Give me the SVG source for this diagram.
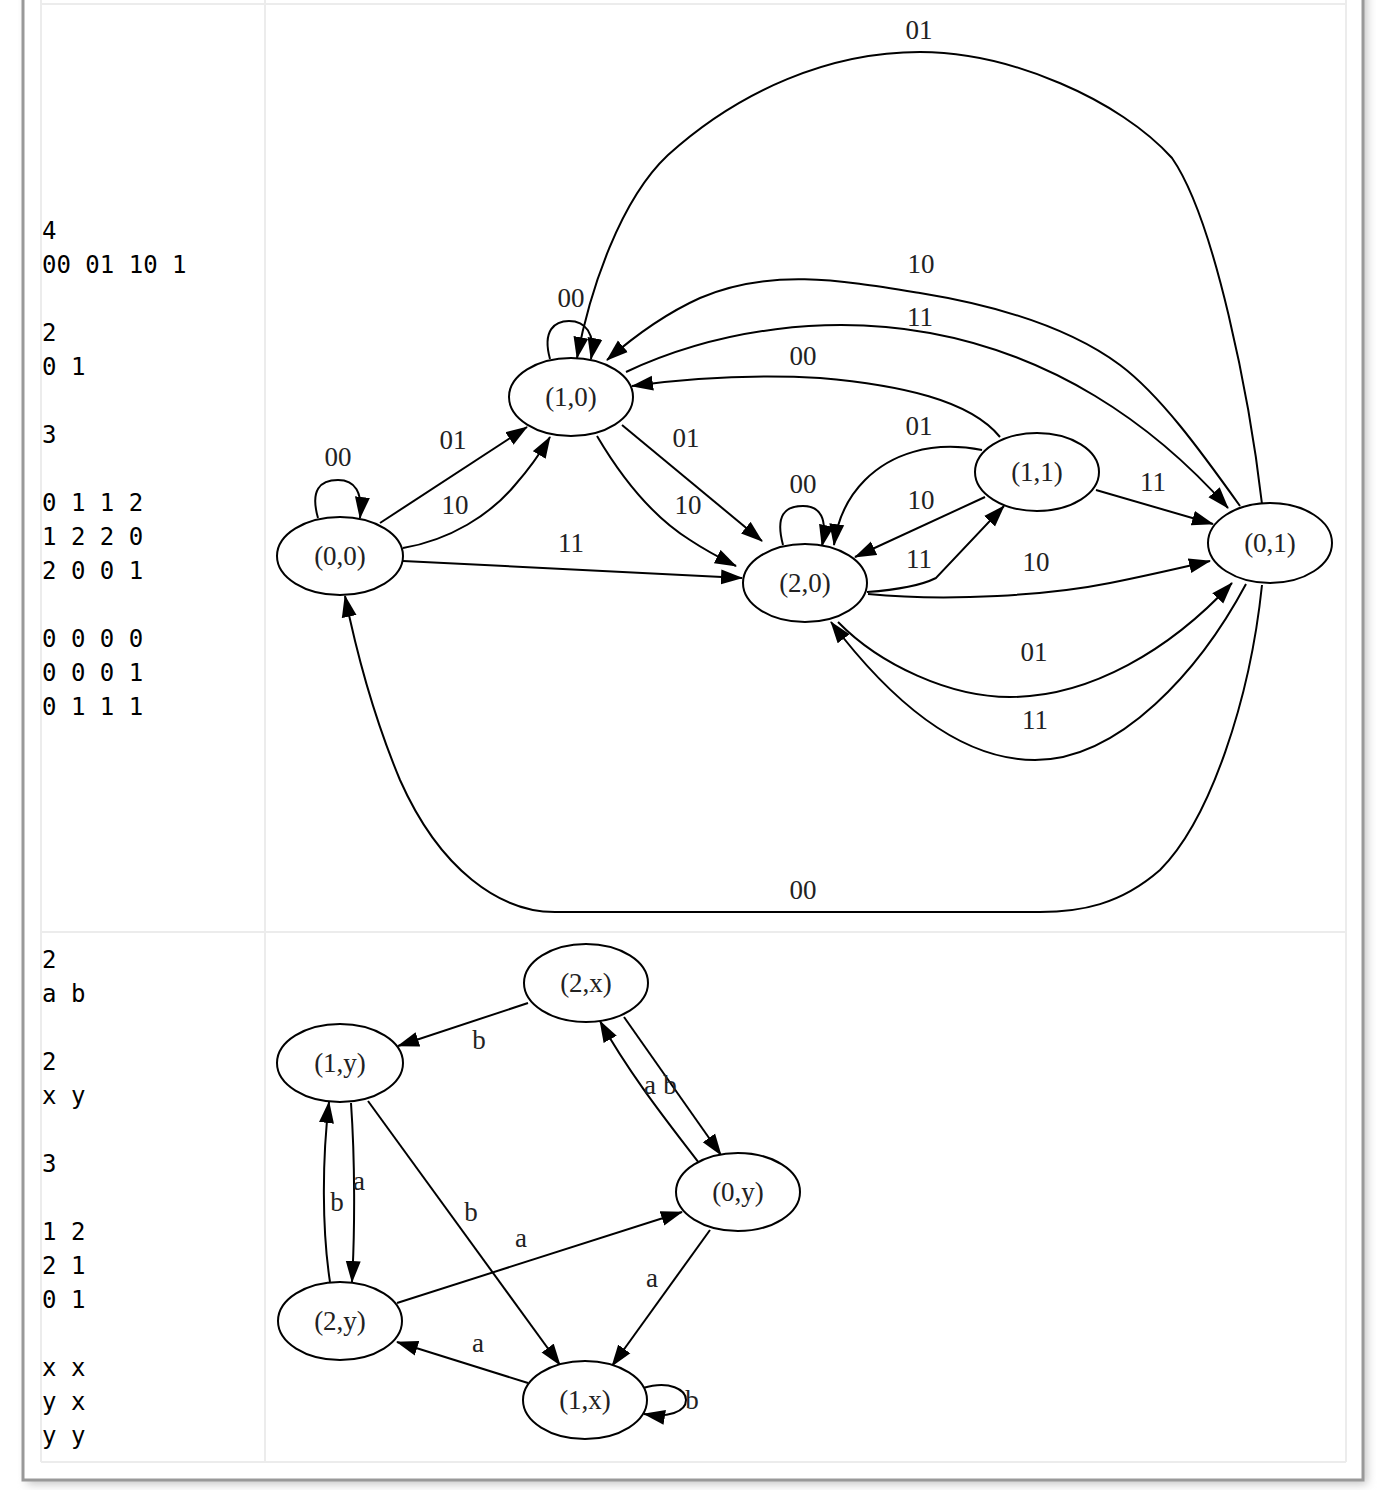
<svg xmlns="http://www.w3.org/2000/svg" width="1382" height="1490" viewBox="0 0 1382 1490">
  <defs>
    <filter id="shadow" x="-5%" y="-5%" width="110%" height="110%">
      <feGaussianBlur stdDeviation="5"/>
    </filter>
    <marker id="arrow" markerUnits="userSpaceOnUse" markerWidth="22" markerHeight="16" viewBox="0 0 22 16" refX="21" refY="8" orient="auto">
      <path d="M0,0.5 L22,8 L0,15.5 z" fill="#000"/>
    </marker>
    <style>
      .node ellipse { fill: #fff; stroke: #000; stroke-width: 2; }
      .node text, .lbl { font-family: "Liberation Serif", "Times New Roman", serif; font-size: 27px; fill: #222; text-anchor: middle; }
      .edges path { fill: none; stroke: #000; stroke-width: 2; marker-end: url(#arrow); }
      .grid { stroke: #ececec; stroke-width: 2; fill: none; }
      .src { font-family: "DejaVu Sans Mono", monospace; font-size: 24px; fill: #000; }
    </style>
  </defs>

  <!-- page panel with drop shadow -->
  <rect x="27" y="-20" width="1340" height="1504" fill="#c4c4c4" filter="url(#shadow)"/>
  <rect x="23" y="-20" width="1340" height="1500" fill="#fff" stroke="#999" stroke-width="3"/>

  <!-- table cell borders -->
  <g class="grid">
    <line x1="41" y1="4" x2="1346" y2="4"/>
    <line x1="41" y1="932" x2="1346" y2="932"/>
    <line x1="41" y1="1462" x2="1346" y2="1462"/>
    <line x1="41" y1="0" x2="41" y2="1462"/>
    <line x1="265" y1="0" x2="265" y2="1462"/>
    <line x1="1346" y1="0" x2="1346" y2="1462"/>
  </g>

  <!-- input listings -->
  <g id="input-1" class="src">
    <text x="42" y="239">4</text>
    <text x="42" y="273">00 01 10 1</text>
    <text x="42" y="341">2</text>
    <text x="42" y="375">0 1</text>
    <text x="42" y="443">3</text>
    <text x="42" y="511">0 1 1 2</text>
    <text x="42" y="545">1 2 2 0</text>
    <text x="42" y="579">2 0 0 1</text>
    <text x="42" y="647">0 0 0 0</text>
    <text x="42" y="681">0 0 0 1</text>
    <text x="42" y="715">0 1 1 1</text>
  </g>
  <g id="input-2" class="src">
    <text x="42" y="968">2</text>
    <text x="42" y="1002">a b</text>
    <text x="42" y="1070">2</text>
    <text x="42" y="1104">x y</text>
    <text x="42" y="1172">3</text>
    <text x="42" y="1240">1 2</text>
    <text x="42" y="1274">2 1</text>
    <text x="42" y="1308">0 1</text>
    <text x="42" y="1376">x x</text>
    <text x="42" y="1410">y x</text>
    <text x="42" y="1444">y y</text>
  </g>

  <!-- connectors, first automaton -->
  <g id="edges-1" class="edges">
    <path d="M318,518 C310,490 320,480 338,480 C355,480 363,492 360,518"/>
    <path d="M380,523 L527,427"/>
    <path d="M403,548 C450,540 490,515 515,485 C530,468 541,452 550,437"/>
    <path d="M403,561 L742,578"/>
    <path d="M550,359 C542,330 555,321 569,321 C585,321 596,333 591,359"/>
    <path d="M622,425 L762,541"/>
    <path d="M597,436 C620,475 650,515 690,540 C705,550 720,558 736,566"/>
    <path d="M1000,437 C970,400 900,385 820,378 C750,374 690,378 632,386"/>
    <path d="M1240,506 C1200,450 1160,395 1120,365 C1070,328 1000,306 920,293 C840,280 770,268 700,298 C660,316 630,340 607,360"/>
    <path d="M626,372 C720,328 830,315 930,333 C1050,355 1150,420 1228,508"/>
    <path d="M1262,504 C1250,400 1215,220 1172,158 C1120,100 1010,52 920,52 C830,52 740,90 668,155 C620,200 590,290 577,358"/>
    <path d="M783,545 C775,515 785,506 803,506 C820,506 828,518 822,546"/>
    <path d="M982,450 C930,440 890,455 865,480 C850,495 838,515 834,545"/>
    <path d="M985,497 L855,557"/>
    <path d="M867,592 C895,590 922,585 936,578 L1004,506"/>
    <path d="M1096,490 L1213,524"/>
    <path d="M868,594 C950,602 1050,595 1110,583 C1150,575 1180,568 1210,561"/>
    <path d="M838,622 C880,665 950,697 1010,697 C1090,697 1170,650 1232,583"/>
    <path d="M1246,584 C1200,670 1120,760 1035,760 C960,760 890,700 831,622"/>
    <path d="M1262,585 C1250,700 1210,820 1160,870 C1120,905 1080,912 1040,912 L555,912 C500,912 440,870 400,780 C375,720 358,660 345,596"/>
  </g>

  <!-- edge labels, first automaton -->
  <g id="labels-1" class="lbl">
    <text x="919" y="39">01</text>
    <text x="921" y="273">10</text>
    <text x="920" y="326">11</text>
    <text x="803" y="365">00</text>
    <text x="571" y="307">00</text>
    <text x="453" y="449">01</text>
    <text x="338" y="466">00</text>
    <text x="455" y="514">10</text>
    <text x="571" y="552">11</text>
    <text x="686" y="447">01</text>
    <text x="688" y="514">10</text>
    <text x="803" y="493">00</text>
    <text x="919" y="435">01</text>
    <text x="921" y="509">10</text>
    <text x="919" y="568">11</text>
    <text x="1036" y="571">10</text>
    <text x="1153" y="491">11</text>
    <text x="1034" y="661">01</text>
    <text x="1035" y="729">11</text>
    <text x="803" y="899">00</text>
  </g>

  <!-- states, first automaton -->
  <g id="n00" class="node"><ellipse cx="340" cy="556" rx="63" ry="39"/><text x="340" y="565">(0,0)</text></g>
  <g id="n10" class="node"><ellipse cx="571" cy="397" rx="62" ry="39"/><text x="571" y="406">(1,0)</text></g>
  <g id="n20" class="node"><ellipse cx="805" cy="583" rx="62" ry="39"/><text x="805" y="592">(2,0)</text></g>
  <g id="n11" class="node"><ellipse cx="1037" cy="472" rx="62" ry="39"/><text x="1037" y="481">(1,1)</text></g>
  <g id="n01" class="node"><ellipse cx="1270" cy="543" rx="62" ry="40"/><text x="1270" y="552">(0,1)</text></g>

  <!-- connectors, second automaton -->
  <g id="edges-2" class="edges">
    <path d="M528,1003 L398,1046"/>
    <path d="M624,1017 L721,1155"/>
    <path d="M699,1163 C670,1125 630,1075 600,1021"/>
    <path d="M351,1103 C355,1160 355,1230 352,1282"/>
    <path d="M330,1282 C322,1230 322,1160 329,1102"/>
    <path d="M368,1101 L560,1365"/>
    <path d="M397,1303 L682,1212"/>
    <path d="M710,1230 L612,1366"/>
    <path d="M528,1383 L397,1342"/>
    <path d="M643,1388 C670,1380 686,1390 686,1400 C686,1412 668,1418 644,1414"/>
  </g>

  <!-- edge labels, second automaton -->
  <g id="labels-2" class="lbl">
    <text x="479" y="1049">b</text>
    <text x="650" y="1094">a</text>
    <text x="670" y="1094">b</text>
    <text x="359" y="1190">a</text>
    <text x="337" y="1211">b</text>
    <text x="471" y="1221">b</text>
    <text x="521" y="1247">a</text>
    <text x="652" y="1287">a</text>
    <text x="478" y="1352">a</text>
    <text x="692" y="1409">b</text>
  </g>

  <!-- states, second automaton -->
  <g id="n2x" class="node"><ellipse cx="586" cy="983" rx="62" ry="39"/><text x="586" y="992">(2,x)</text></g>
  <g id="n1y" class="node"><ellipse cx="340" cy="1063" rx="63" ry="39"/><text x="340" y="1072">(1,y)</text></g>
  <g id="n0y" class="node"><ellipse cx="738" cy="1192" rx="62" ry="39"/><text x="738" y="1201">(0,y)</text></g>
  <g id="n2y" class="node"><ellipse cx="340" cy="1321" rx="62" ry="39"/><text x="340" y="1330">(2,y)</text></g>
  <g id="n1x" class="node"><ellipse cx="585" cy="1400" rx="62" ry="39"/><text x="585" y="1409">(1,x)</text></g>
</svg>
